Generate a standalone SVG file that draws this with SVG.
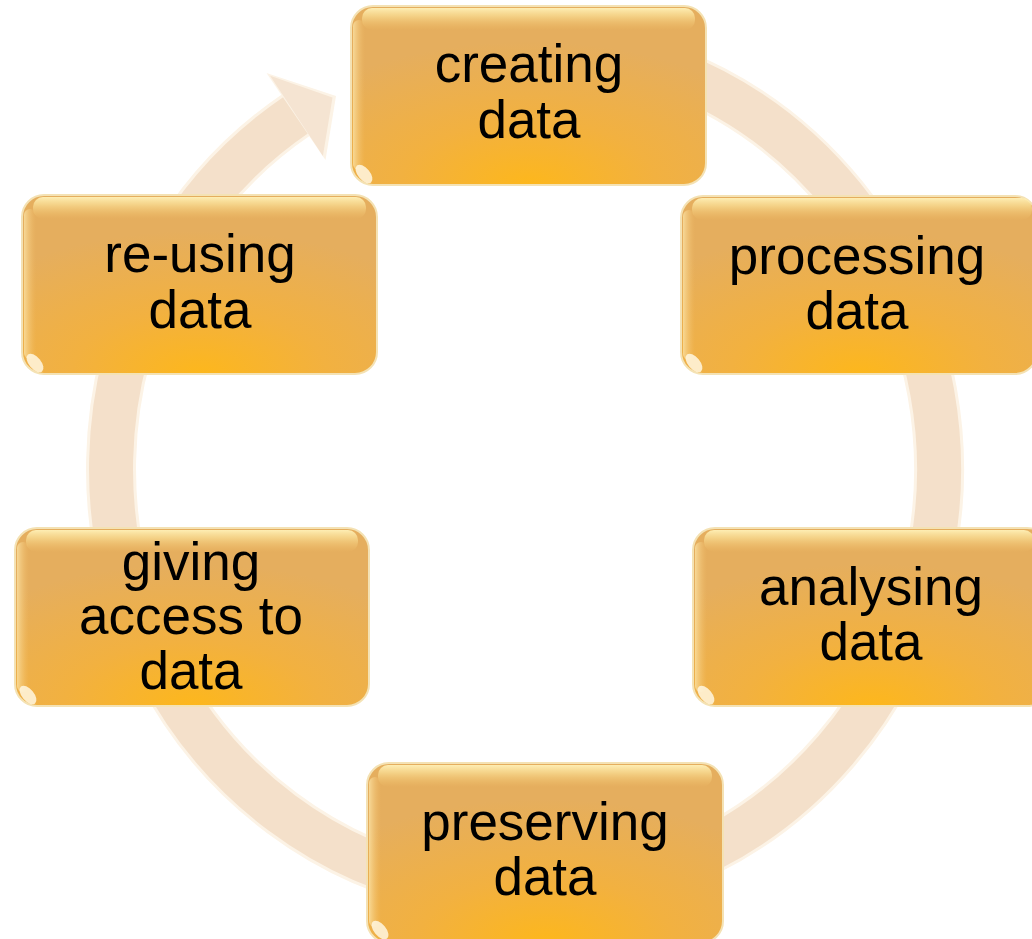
<svg xmlns="http://www.w3.org/2000/svg" width="1032" height="939" viewBox="0 0 1032 939">
  <defs>
    <!-- warm amber fill, brightest at the bottom centre of each box -->
    <radialGradient id="boxFill" cx="0.5" cy="1" r="0.8" fx="0.5" fy="1">
      <stop offset="0" stop-color="#FDB71C"/>
      <stop offset="0.45" stop-color="#F2B140"/>
      <stop offset="1" stop-color="#E5AE5E"/>
    </radialGradient>
    <!-- glossy band along the top edge -->
    <linearGradient id="topGloss" x1="0" y1="0" x2="0" y2="1">
      <stop offset="0" stop-color="#FFF1B8" stop-opacity="0.95"/>
      <stop offset="0.35" stop-color="#FBE29A" stop-opacity="0.7"/>
      <stop offset="1" stop-color="#F5C870" stop-opacity="0"/>
    </linearGradient>
    <linearGradient id="sideGloss" x1="0" y1="0" x2="1" y2="0">
      <stop offset="0" stop-color="#FBE3A6" stop-opacity="0.8"/>
      <stop offset="1" stop-color="#F3C06A" stop-opacity="0"/>
    </linearGradient>
    <style>
      .box { fill: url(#boxFill); stroke: #F4E2B4; stroke-width: 2; }
      .gloss { fill: url(#topGloss); }
      .side { fill: url(#sideGloss); }
      .spot { fill: #FFF7E0; opacity: 0.85; }
      .label { font-family: "Liberation Sans", Arial, sans-serif; font-size: 53px; fill: #000; text-anchor: middle; }
      .ring-edge { fill: none; stroke: #FCF3E6; stroke-width: 50; }
      .ring { fill: none; stroke: #F4E0CA; stroke-width: 44; }
      .head-edge { fill: #FCF3E6; }
      .head { fill: #F5E4D2; }
    </style>
  </defs>

  <rect width="1032" height="939" fill="#FFFFFF"/>

  <!-- circular arrow running clockwise behind the boxes -->
  <g id="connectors">
    <path class="ring-edge" d="M 488.9 45.6 A 414 425 0 1 1 296.5 114.6"/>
    <path class="ring" d="M 488.9 45.6 A 414 425 0 1 1 296.5 114.6"/>
    <polygon class="head-edge" points="266.5,73 336,96 325.5,160"/>
    <polygon class="head" points="270.1,75.7 332.5,97.5 322.9,156"/>
  </g>

  <g id="creating">
    <rect class="box" x="351" y="6" width="355" height="179" rx="22"/>
    <rect class="gloss" x="362" y="8" width="333" height="22" rx="10"/>
    <rect class="side" x="353" y="20" width="12" height="150" rx="6"/>
    <ellipse class="spot" cx="364" cy="174" rx="6" ry="11" transform="rotate(-40 364 174)"/>
    <text class="label" x="529" y="82">creating</text>
    <text class="label" x="529" y="138">data</text>
  </g>

  <g id="processing">
    <rect class="box" x="681" y="196" width="356" height="178" rx="22"/>
    <rect class="gloss" x="692" y="198" width="340" height="22" rx="10"/>
    <rect class="side" x="683" y="210" width="12" height="150" rx="6"/>
    <ellipse class="spot" cx="694" cy="363" rx="6" ry="11" transform="rotate(-40 694 363)"/>
    <text class="label" x="857" y="274">processing</text>
    <text class="label" x="857" y="329">data</text>
  </g>

  <g id="analysing">
    <rect class="box" x="693" y="528" width="356" height="178" rx="22"/>
    <rect class="gloss" x="704" y="530" width="330" height="22" rx="10"/>
    <rect class="side" x="695" y="542" width="12" height="150" rx="6"/>
    <ellipse class="spot" cx="706" cy="695" rx="6" ry="11" transform="rotate(-40 706 695)"/>
    <text class="label" x="871" y="605">analysing</text>
    <text class="label" x="871" y="660">data</text>
  </g>

  <g id="preserving">
    <rect class="box" x="367" y="763" width="356" height="180" rx="22"/>
    <rect class="gloss" x="378" y="765" width="334" height="22" rx="10"/>
    <rect class="side" x="369" y="777" width="12" height="150" rx="6"/>
    <ellipse class="spot" cx="380" cy="930" rx="6" ry="11" transform="rotate(-40 380 930)"/>
    <text class="label" x="545" y="840">preserving</text>
    <text class="label" x="545" y="895">data</text>
  </g>

  <g id="giving-access">
    <rect class="box" x="15" y="528" width="354" height="178" rx="22"/>
    <rect class="gloss" x="26" y="530" width="332" height="22" rx="10"/>
    <rect class="side" x="17" y="542" width="12" height="150" rx="6"/>
    <ellipse class="spot" cx="28" cy="695" rx="6" ry="11" transform="rotate(-40 28 695)"/>
    <text class="label" x="191" y="580">giving</text>
    <text class="label" x="191" y="634">access to</text>
    <text class="label" x="191" y="689">data</text>
  </g>

  <g id="re-using">
    <rect class="box" x="22" y="195" width="355" height="179" rx="22"/>
    <rect class="gloss" x="33" y="197" width="333" height="22" rx="10"/>
    <rect class="side" x="24" y="209" width="12" height="150" rx="6"/>
    <ellipse class="spot" cx="35" cy="363" rx="6" ry="11" transform="rotate(-40 35 363)"/>
    <text class="label" x="200" y="272">re-using</text>
    <text class="label" x="200" y="328">data</text>
  </g>
</svg>
